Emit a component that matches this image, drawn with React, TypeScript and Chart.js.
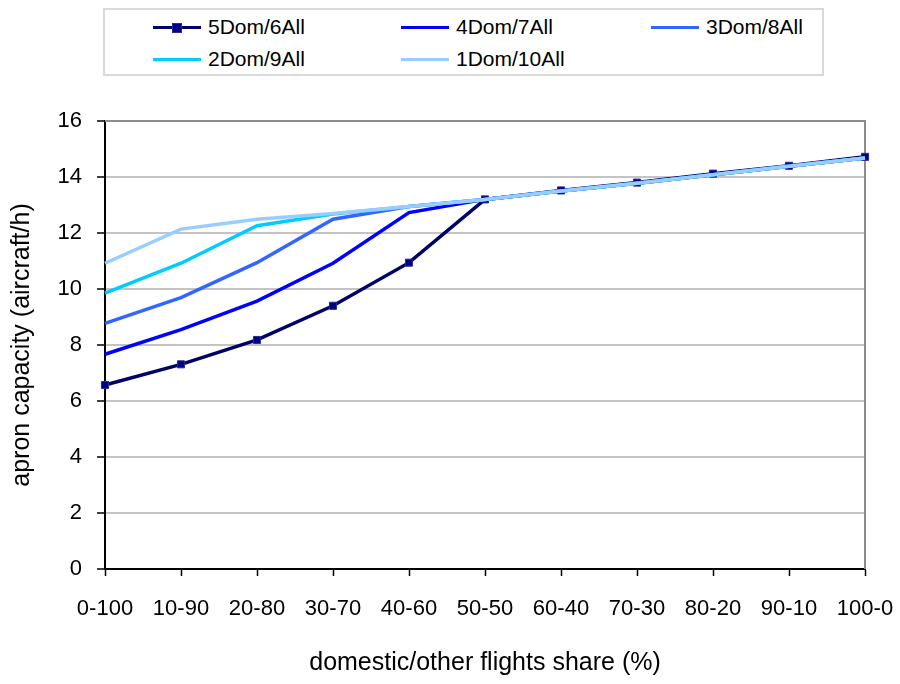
import React, { useEffect, useRef } from "react";
import { Chart, registerables } from "chart.js";

Chart.register(...registerables);

const categories = ["0-100", "10-90", "20-80", "30-70", "40-60", "50-50", "60-40", "70-30", "80-20", "90-10", "100-0"];
const dom5 = [6.57, 7.31, 8.18, 9.4, 10.94, 13.2, 13.52, 13.8, 14.12, 14.4, 14.72];
const dom4 = [7.67, 8.55, 9.57, 10.92, 12.73, 13.2, 13.5, 13.78, 14.08, 14.38, 14.68];
const dom3 = [8.77, 9.69, 10.94, 12.49, 12.95, 13.2, 13.5, 13.78, 14.08, 14.38, 14.68];
const dom2 = [9.85, 10.92, 12.26, 12.68, 12.95, 13.2, 13.5, 13.78, 14.08, 14.38, 14.68];
const dom1 = [10.92, 12.14, 12.49, 12.7, 12.95, 13.2, 13.5, 13.78, 14.08, 14.38, 14.68];
const seriesNames = ["5Dom/6All", "4Dom/7All", "3Dom/8All", "2Dom/9All", "1Dom/10All"];
const seriesColors = ["#000066", "#0000ff", "#3366ff", "#00ccff", "#99ccff"];
const yTicks = [0, 2, 4, 6, 8, 10, 12, 14, 16];

const FONT = "'Liberation Sans', Arial, sans-serif";

// gray frame on the top and right of the plot area
const framePlugin = {
  id: "frame",
  beforeDatasetsDraw(chart: any) {
    const { ctx, chartArea } = chart;
    ctx.save();
    ctx.strokeStyle = "#8c8c8c";
    ctx.lineWidth = 2;
    ctx.beginPath();
    ctx.moveTo(chartArea.left, chartArea.top);
    ctx.lineTo(chartArea.right, chartArea.top);
    ctx.lineTo(chartArea.right, chartArea.bottom);
    ctx.stroke();
    ctx.restore();
  },
};

function Legend() {
  const items = [
    { x: 48, y: 17 },
    { x: 296, y: 17 },
    { x: 546, y: 17 },
    { x: 48, y: 49 },
    { x: 296, y: 49 },
  ];
  return (
    <div
      style={{
        position: "absolute",
        left: 103,
        top: 8,
        width: 717,
        height: 64,
        border: "2px solid #d9d9d9",
        background: "#fff",
        fontFamily: FONT,
        fontSize: 21,
        color: "#000",
      }}
    >
      {items.map((p, i) => (
        <div key={i} style={{ position: "absolute", left: p.x, top: p.y - 13, height: 26, display: "flex", alignItems: "center" }}>
          <div style={{ position: "relative", width: 48, height: 26, marginRight: 7 }}>
            <div style={{ position: "absolute", left: 0, top: 11.5, width: 48, height: 3, background: seriesColors[i] }} />
            {i === 0 && (
              <div style={{ position: "absolute", left: 19, top: 8.5, width: 10, height: 10, background: "#000080", border: "1px solid #2a2a99", boxSizing: "border-box" }} />
            )}
          </div>
          <span style={{ whiteSpace: "nowrap" }}>{seriesNames[i]}</span>
        </div>
      ))}
    </div>
  );
}

export default function App() {
  const ref = useRef<HTMLCanvasElement>(null);

  useEffect(() => {
    if (!ref.current) return;
    const values = [dom5, dom4, dom3, dom2, dom1];
    const chart = new Chart(ref.current, {
      type: "line",
      data: {
        labels: categories,
        datasets: values.map((v, i) => ({
          label: seriesNames[i],
          data: v,
          borderColor: seriesColors[i],
          backgroundColor: i === 0 ? "#000080" : seriesColors[i],
          borderWidth: 3.5,
          tension: 0,
          order: 5 - i,
          pointStyle: "rect",
          pointRadius: i === 0 ? 5 : 0,
          pointBorderColor: "#2a2a99",
          pointBorderWidth: 1,
          pointHoverRadius: 0,
        })),
      },
      options: {
        responsive: false,
        animation: false,
        events: [],
        layout: { padding: { top: 121, right: 35, left: 0, bottom: 0 } },
        plugins: {
          legend: { display: false },
          tooltip: { enabled: false },
        },
        scales: {
          x: {
            offset: false,
            grid: {
              drawOnChartArea: false,
              drawTicks: true,
              tickLength: 7,
              tickColor: "#000",
              tickWidth: 1.5,
            },
            border: { color: "#000", width: 2 },
            ticks: {
              color: "#000",
              font: { family: FONT, size: 22 },
              padding: 20,
              maxRotation: 0,
              autoSkip: false,
            },
            title: {
              display: true,
              text: "domestic/other flights share (%)",
              color: "#000",
              font: { family: FONT, size: 25 },
              padding: { top: 0, bottom: 6 },
            },
            afterFit(scale: any) {
              scale.height = 684 - 569;
              scale.paddingLeft = 0;
              scale.paddingRight = 0;
            },
          },
          y: {
            min: 0,
            max: 16,
            afterBuildTicks(scale: any) {
              scale.ticks = yTicks.map((v) => ({ value: v }));
            },
            grid: {
              color: "#c4c4c4",
              lineWidth: 2,
              drawTicks: true,
              tickLength: 8,
              tickColor: "#000",
              tickWidth: 1.5,
            },
            border: { color: "#000", width: 2 },
            ticks: {
              color: "#000",
              font: { family: FONT, size: 22 },
              padding: 15,
            },
            title: {
              display: true,
              text: "apron capacity (aircraft/h)",
              color: "#000",
              font: { family: FONT, size: 25 },
              padding: { top: 7, bottom: 0 },
            },
            afterFit(scale: any) {
              scale.width = 105;
              scale.paddingTop = 0;
              scale.paddingBottom = 0;
            },
          },
        },
      },
      plugins: [framePlugin],
    });
    return () => chart.destroy();
  }, []);

  return (
    <div style={{ position: "fixed", left: 0, top: 0, width: 900, height: 684, background: "#fff" }}>
      <canvas ref={ref} width={900} height={684} style={{ position: "absolute", left: 0, top: 0 }} />
      <Legend />
    </div>
  );
}
